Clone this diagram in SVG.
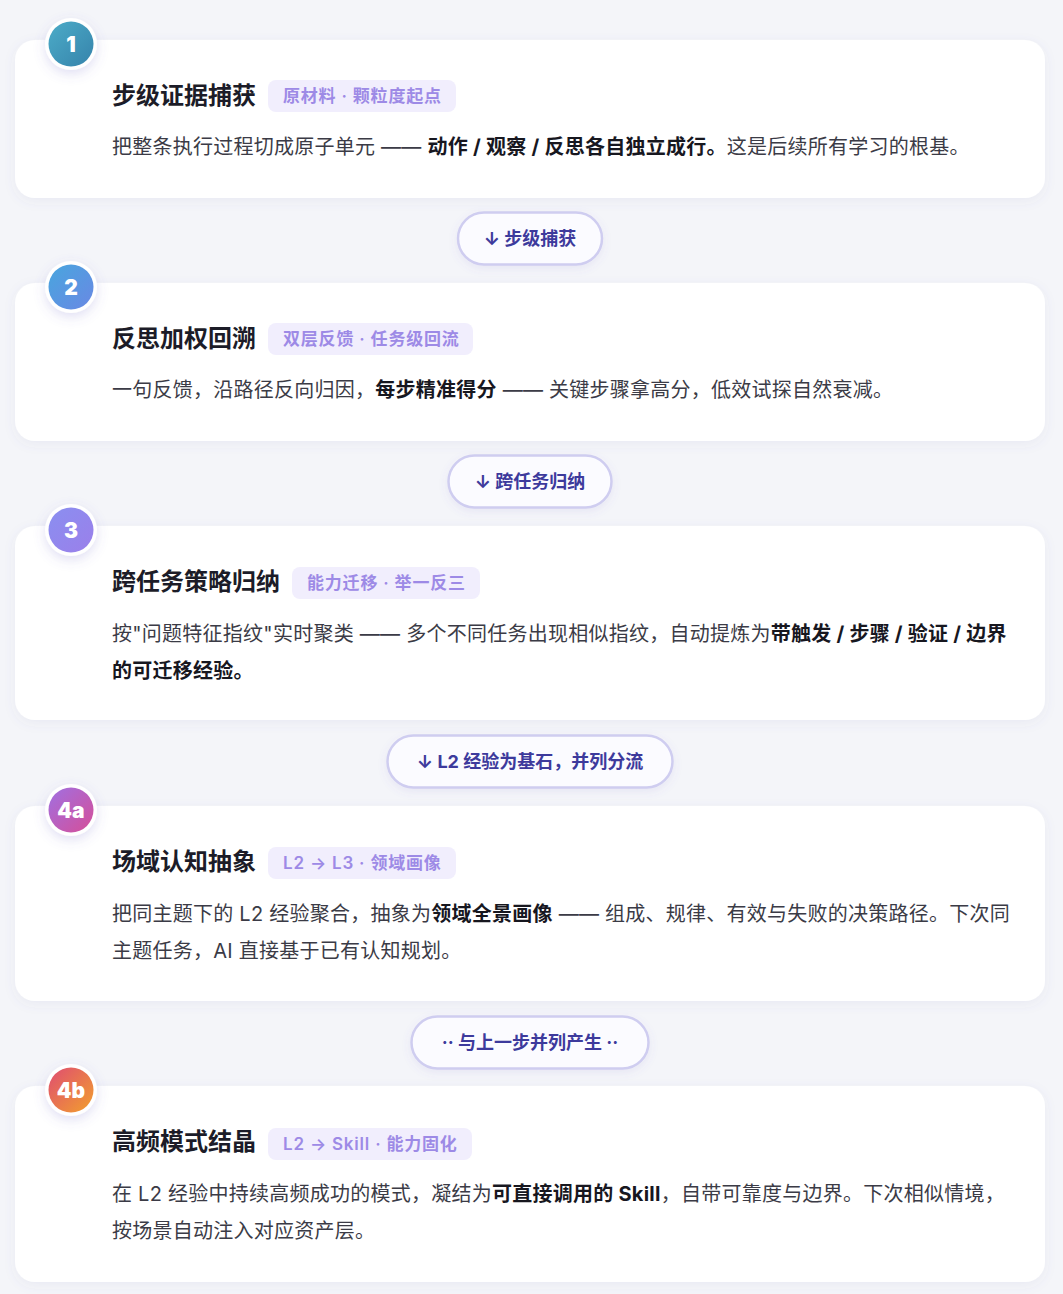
<svg xmlns="http://www.w3.org/2000/svg" width="1063" height="1294" viewBox="0 0 1063 1294">
<defs>
<style>
.bg{fill:#f4f5f9}
.card{fill:#ffffff;filter:url(#cardShadow)}
.ring{fill:#ffffff;filter:url(#badgeShadow)}
.num{font-family:"Inter","DejaVu Sans",sans-serif;font-weight:900;font-size:21px;fill:#ffffff;text-anchor:middle}
.title{font-family:"Inter","Noto Sans CJK SC",sans-serif;font-weight:700;font-size:24px;fill:#1c1c28}
.tag{fill:#f1eefd}
.tagt{font-family:"Inter","Noto Sans CJK SC",sans-serif;font-weight:600;font-size:17px;letter-spacing:0.8px;fill:#9d8ae6}
.desc{font-family:"Inter","Noto Sans CJK SC",sans-serif;font-weight:400;font-size:20px;letter-spacing:0.25px;fill:#3b3b46}
.b{font-weight:700;fill:#17171f}
.pill{fill:#fbfbff;stroke:#cfcdf0;stroke-width:2.5;filter:url(#pillShadow)}
.pillt{font-family:"Inter","Noto Sans CJK SC",sans-serif;font-weight:700;font-size:18px;fill:#3d3a9c;text-anchor:middle}
</style>
<filter id="cardShadow" x="-5%" y="-20%" width="110%" height="140%">
<feDropShadow dx="0" dy="3" stdDeviation="6" flood-color="#5a5a9a" flood-opacity="0.07"/>
</filter>
<filter id="badgeShadow" x="-50%" y="-50%" width="200%" height="200%">
<feDropShadow dx="0" dy="4" stdDeviation="6" flood-color="#6a60c8" flood-opacity="0.2"/>
</filter>
<filter id="pillShadow" x="-20%" y="-40%" width="140%" height="180%">
<feDropShadow dx="0" dy="3" stdDeviation="4" flood-color="#6a60c8" flood-opacity="0.10"/>
</filter>
<linearGradient id="g1" x1="0" y1="0" x2="1" y2="1"><stop offset="0" stop-color="#4cacc8"/><stop offset="1" stop-color="#3683ab"/></linearGradient>
<linearGradient id="g2" x1="0" y1="0" x2="1" y2="1"><stop offset="0" stop-color="#48a6de"/><stop offset="1" stop-color="#6a88e4"/></linearGradient>
<linearGradient id="g3" x1="0" y1="0" x2="1" y2="1"><stop offset="0" stop-color="#8a8ff0"/><stop offset="1" stop-color="#9b7fea"/></linearGradient>
<linearGradient id="g4a" x1="0" y1="0" x2="1" y2="1"><stop offset="0" stop-color="#a070e2"/><stop offset="1" stop-color="#d64e98"/></linearGradient>
<linearGradient id="g4b" x1="0" y1="0" x2="1" y2="1"><stop offset="0" stop-color="#df4c72"/><stop offset="1" stop-color="#f2a02c"/></linearGradient>
</defs>
<rect class="bg" x="0" y="0" width="1063" height="1294"/>

<g id="connectors">
<g id="pill1"><rect class="pill" x="458" y="212.5" width="144" height="52" rx="26"/><text class="pillt" x="530" y="245">↓ 步级捕获</text></g>
<g id="pill2"><rect class="pill" x="448.5" y="455.5" width="163" height="52" rx="26"/><text class="pillt" x="530" y="488">↓ 跨任务归纳</text></g>
<g id="pill3"><rect class="pill" x="387.5" y="735.5" width="285" height="52" rx="26"/><text class="pillt" x="530" y="768">↓ L2 经验为基石，并列分流</text></g>
<g id="pill4"><rect class="pill" x="411.5" y="1016.5" width="237" height="52" rx="26"/><text class="pillt" x="530" y="1049">·· 与上一步并列产生 ··</text></g>
</g>

<g id="step1">
<rect class="card" x="15" y="40" width="1030" height="158" rx="20"/>
<circle class="ring" cx="71" cy="44" r="26"/>
<circle cx="71" cy="44" r="22.5" fill="url(#g1)"/>
<text class="num" x="71" y="51.5">1</text>
<text class="title" x="112" y="104">步级证据捕获</text>
<rect class="tag" x="268" y="80" width="188" height="32" rx="8"/>
<text class="tagt" x="283" y="102">原材料 · 颗粒度起点</text>
<text class="desc" x="112" y="154">把整条执行过程切成原子单元 —— <tspan class="b">动作 / 观察 / 反思各自独立成行。</tspan>这是后续所有学习的根基。</text>
</g>

<g id="step2">
<rect class="card" x="15" y="283" width="1030" height="158" rx="20"/>
<circle class="ring" cx="71" cy="287" r="26"/>
<circle cx="71" cy="287" r="22.5" fill="url(#g2)"/>
<text class="num" x="71" y="294.5">2</text>
<text class="title" x="112" y="347">反思加权回溯</text>
<rect class="tag" x="268" y="323" width="205" height="32" rx="8"/>
<text class="tagt" x="283" y="345">双层反馈 · 任务级回流</text>
<text class="desc" x="112" y="397">一句反馈，沿路径反向归因，<tspan class="b">每步精准得分</tspan> —— 关键步骤拿高分，低效试探自然衰减。</text>
</g>

<g id="step3">
<rect class="card" x="15" y="526" width="1030" height="194" rx="20"/>
<circle class="ring" cx="71" cy="530" r="26"/>
<circle cx="71" cy="530" r="22.5" fill="url(#g3)"/>
<text class="num" x="71" y="537.5">3</text>
<text class="title" x="112" y="590">跨任务策略归纳</text>
<rect class="tag" x="292" y="567" width="188" height="32" rx="8"/>
<text class="tagt" x="307" y="589">能力迁移 · 举一反三</text>
<text class="desc" x="112" y="641">按"问题特征指纹"实时聚类 —— 多个不同任务出现相似指纹，自动提炼为<tspan class="b">带触发 / 步骤 / 验证 / 边界</tspan></text>
<text class="desc" x="112" y="678"><tspan class="b">的可迁移经验。</tspan></text>
</g>

<g id="step4a">
<rect class="card" x="15" y="806" width="1030" height="195" rx="20"/>
<circle class="ring" cx="71" cy="810" r="26"/>
<circle cx="71" cy="810" r="22.5" fill="url(#g4a)"/>
<text class="num" x="71" y="817.5">4a</text>
<text class="title" x="112" y="870">场域认知抽象</text>
<rect class="tag" x="268" y="847" width="188" height="32" rx="8"/>
<text class="tagt" x="283" y="869">L2 → L3 · 领域画像</text>
<text class="desc" x="112" y="921">把同主题下的 L2 经验聚合，抽象为<tspan class="b">领域全景画像</tspan> —— 组成、规律、有效与失败的决策路径。下次同</text>
<text class="desc" x="112" y="958">主题任务，AI 直接基于已有认知规划。</text>
</g>

<g id="step4b">
<rect class="card" x="15" y="1086" width="1030" height="196" rx="20"/>
<circle class="ring" cx="71" cy="1090" r="26"/>
<circle cx="71" cy="1090" r="22.5" fill="url(#g4b)"/>
<text class="num" x="71" y="1097.5">4b</text>
<text class="title" x="112" y="1150">高频模式结晶</text>
<rect class="tag" x="268" y="1128" width="204" height="32" rx="8"/>
<text class="tagt" x="283" y="1150">L2 → Skill · 能力固化</text>
<text class="desc" x="112" y="1201">在 L2 经验中持续高频成功的模式，凝结为<tspan class="b">可直接调用的 Skill</tspan>，自带可靠度与边界。下次相似情境，</text>
<text class="desc" x="112" y="1238">按场景自动注入对应资产层。</text>
</g>
</svg>
